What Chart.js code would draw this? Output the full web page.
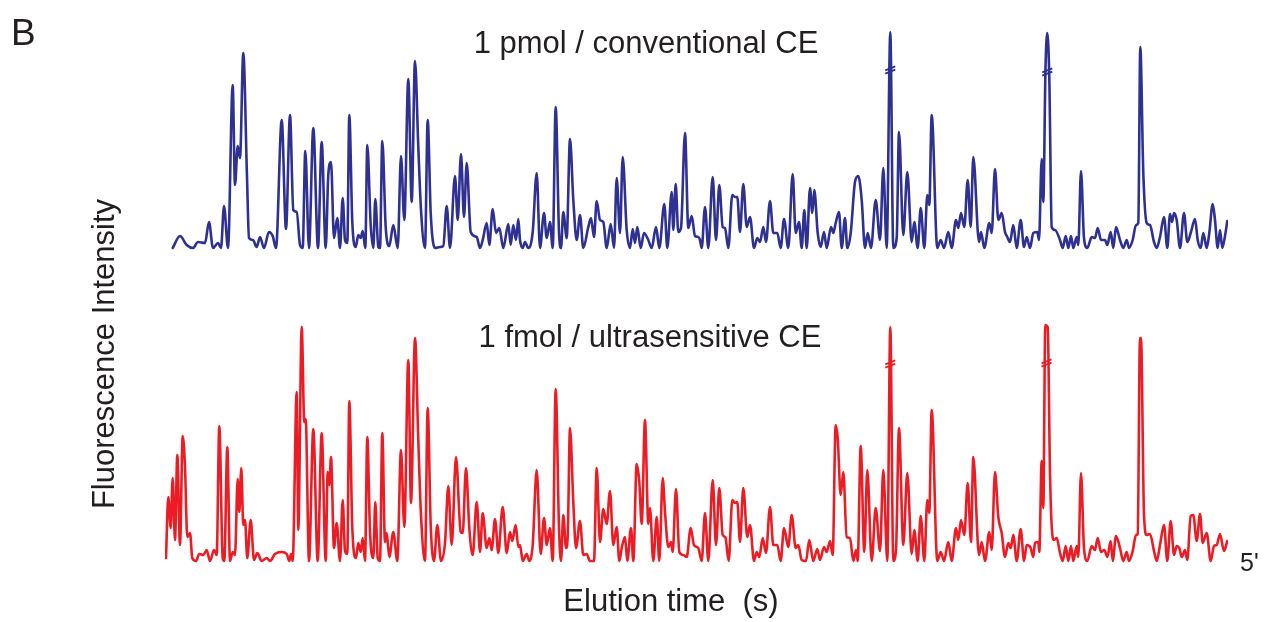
<!DOCTYPE html>
<html>
<head>
<meta charset="utf-8">
<script src="https://cdn.jsdelivr.net/npm/chart.js@4.4.1/dist/chart.umd.min.js"></script>
<style>
  html, body { margin: 0; padding: 0; background: #ffffff; }
  #wrap { position: relative; width: 1267px; height: 622px; }
</style>
</head>
<body>
<div id="wrap"><canvas id="c" width="1267" height="622"></canvas></div>
<script>
// ---- Data (time in trace units, intensity in arbitrary units) ----
const blueTime = [
  172.7,180,186.7,193,198,205,209,213,218,221,224,228,232.7,235,237.7,240,243.3,247,249,253,
  256.7,260,264,269,272.7,276,281.7,286,290,293.3,296.7,300,302.7,305.3,309,313.3,318,321.7,325.7,328.3,
  331,334,337.3,340,
  342.7,345,347.3,349.3,352.3,355.7,358.3,360.7,362.7,365.3,367.3,370.7,373.3,375.3,378.3,380,382.3,385.7,389.3,393.3,
  397.7,401,404.3,408.3,411.7,415,418.3,421,425,427.7,430.7,435,440,443.3,446.7,450,455,457.7,461,464,
  466.7,470.7,476.7,480,482.7,486.7,489.3,492.7,496,499.3,503.3,508.3,510.7,513.3,516,518.3,
  520,522.7,525,528.3,532.7,536.7,540,544,546.7,550,552.7,555.7,559,561,563.3,566.7,570,573.3,576.7,580,
  583.3,588.3,591,594,596.7,600,603.3,606.7,610.7,614,616.7,620,622.7,626.7,630,632.7,635,637.3,640.7,644,
  648.3,651.7,656,659.3,664.3,667.3,671.7,673.3,675.7,678.3,681,685,688.3,691.7,695,698.3,
  700,701.7,705,708.3,712.7,716,719.3,722.7,725,728.3,732.3,735,737.3,740,743.3,746.7,750,754,757.3,760,
  763.3,766,770,773.3,777.3,780.7,784,788.3,792.7,795.7,799,801.7,804.3,806.7,810,812.3,814.3,817.7,820.7,824,
  826.7,831,833.3,835.7,839,841.7,845,847.3,850.7,855,858.3,861.7,865,867.7,871,875.7,
  880,883.3,886.7,890.3,893.3,896.7,899,903.3,907.3,911.7,914.3,917.7,920.7,924.3,927.3,929.3,931.7,937.3,940.7,944,
  948.3,951.7,956,958.3,961,964.3,967.7,970.7,973.3,979,981,984.3,989.3,991.7,995,998.3,1001.7,1005,1007.3,1010,
  1013.3,1016.7,1020.7,1024,1026.7,1030,1033.3,1037.3,1039,1041.7,1043.3,1045.5,1047.3,1049.3,1051.7,1055,1060,
  1062.7,1065.7,1068.3,1071,1073.3,1076.7,1078.3,1081,1084,1087.3,1091.7,1095,1097.7,1101,1105,1107.3,1110.7,1113.3,1116,1120,
  1123.3,1126.7,1129,1132.7,1136,1138.3,1140.3,1143.3,1146.7,1150,1154,1156.7,1160,1164,1167.3,1170,1172,1174,1176.7,1180,
  1184,1187.3,1190.7,1195,1197.7,1200.7,1203.3,1206.7,1209.3,1212.7,1215,1217.7,1220,1222.3,1225,1227.3
];
const blueSignal = [
  0,12,3,0,6,5,26,0,5,0,42,0,163,63,102,90,195,71,10,8,
  1,11,0,16,12,0,128,19,133,38,36,3,0,97,0,120,0,106,0,73,
  86,10,30,0,
  50,8,5,133,26,1,13,10,17,0,103,23,0,49,1,0,107,21,2,23,
  0,92,28,169,46,187,101,38,0,128,35,0,1,2,42,0,72,28,94,31,
  85,16,11,0,8,25,3,39,15,20,0,24,3,23,8,29,
  8,0,6,0,16,75,0,35,10,26,0,141,16,0,36,10,109,48,8,33,
  0,21,30,11,47,28,26,0,24,0,70,15,91,18,0,19,5,21,0,15,
  8,0,21,0,44,0,56,18,64,16,20,115,20,32,12,11,
  8,0,41,0,71,8,63,21,20,0,53,51,51,16,64,21,31,0,10,6,
  21,6,47,15,15,0,29,0,74,15,26,0,38,0,60,35,58,15,1,16,
  0,21,15,25,36,0,30,0,15,66,72,48,0,15,0,48,
  8,80,0,216,0,10,116,13,76,6,26,0,40,0,53,43,133,0,8,0,
  16,0,28,20,35,21,68,21,91,6,16,0,25,15,79,28,35,16,11,6,
  23,0,28,1,11,0,15,16,8,89,46,180,215,170,21,18,8,
  0,12,0,12,0,11,3,77,10,0,11,10,20,8,8,3,16,0,21,8,
  0,8,0,8,23,25,201,75,25,23,6,0,11,31,0,34,26,35,28,0,
  35,6,15,29,8,0,15,0,15,44,28,0,18,0,12,27
];
const redTime = [
  166,168.3,170.7,172.7,175,177.3,180,182.7,185,187.3,190,192.3,196,199.3,203.3,206.7,210,214,216.7,219.3,
  222.7,224.3,227.3,230,232.7,235,237.7,239.3,241.3,243.3,245,247.3,250.7,254,257.3,261.7,266.7,270,275,281.7,
  286.7,289.3,291,292.7,296.7,298.3,301.7,304.3,305.7,309,313.3,317.7,321.7,325.7,327.7,329.3,331,334,336.7,340,
  342.7,345,347.3,349.3,352.3,356,358.3,360.7,362.7,365,367.3,370,373.3,375.3,377.7,380,382.3,385,386.7,389.3,
  393.3,397.3,401,404.3,408.3,411,415,418.3,421,425,427.7,430.7,434,437.3,441,445,448.3,451.7,456,460.7,
  462.7,466,469.3,472.7,476.7,480,482.7,486.7,489.3,491.7,495,498.3,502.7,506.7,510,512.3,515.7,518.3,
  520,522.7,526.7,529.3,532.7,536.7,540.7,544,546.7,550,552.7,555.7,559,561,563.3,566,567.7,570,573.3,576,
  580,583.3,586.7,590,594,596.7,600,603.3,606.7,610,613.3,616.7,619.3,621.7,625,627.3,631,633.3,636.7,639.3,
  641.7,645,648.3,650,653.3,656.7,659.3,662.7,665,668.3,671,672.7,676,679.3,683.3,686.7,690.7,694,698.3,
  700,701.7,705,708.3,712.7,716,719.3,722.7,725.3,728.7,732.3,735,737.3,740,743.3,747.3,750,754,756.7,759.3,
  762.7,766,770,773.3,777.3,780.7,784,788.3,791.7,795.7,798.3,801.7,806,809.3,813.3,817.3,820,824,826.7,830,
  832.7,835.7,837.7,840.7,843.3,846.7,850,853.3,856,857.7,860.7,864.3,867.3,871.7,875.7,880,
  883.3,887.3,890.3,893.3,896,899,903.3,907.3,911.7,914.3,917.7,920.7,924.3,927.3,929.3,931.7,937.3,940.7,944,948.3,
  951.7,956,958.3,961,964.3,967.7,971,973.3,979,981.7,985,989.3,991.7,995,998.3,1001.7,1005,1008.3,1010.7,1013.3,
  1016.7,1020.7,1024,1026.7,1030.7,1033.3,1035,1038.3,1039.3,1041.7,1043.3,1045.3,1047.7,1050,1051.7,1054,1056.7,1060,
  1062.7,1065.7,1068.3,1071,1073.3,1076.7,1078.3,1081,1084,1087.3,1091.7,1095,1097.7,1101,1104.3,1107.3,1110.7,1112.7,1116,1120,
  1123.3,1126.7,1129,1132.7,1136,1137.7,1140,1141,1144,1146.7,1150,1154,1156.7,1160,1164,1167.3,1170.7,1174,1176.7,1179.3,
  1181.7,1185,1187.3,1190.7,1193.3,1196.7,1200,1202.7,1206.7,1210.7,1214,1216.7,1220,1224,1227.3
];
const redSignal = [
  3,64,33,83,21,106,16,125,94,24,28,3,0,7,6,11,0,11,6,135,
  3,0,114,0,9,6,82,49,93,36,41,3,41,1,8,0,3,0,7,9,
  7,0,7,0,169,31,234,139,142,0,132,0,128,0,89,76,104,13,38,0,
  61,10,7,160,33,3,18,9,23,0,124,29,3,59,3,0,128,19,28,4,
  29,0,111,34,201,58,223,121,46,0,153,36,0,36,0,18,75,16,104,29,
  28,93,33,6,59,9,48,13,23,11,42,8,54,8,29,20,36,14,
  16,0,7,0,16,91,7,43,16,33,0,172,33,0,46,13,24,133,59,13,
  40,6,7,0,0,93,19,52,37,70,16,34,0,13,24,0,33,0,97,79,
  37,141,37,53,0,44,0,83,49,14,19,9,72,9,6,4,33,16,13,
  6,0,48,0,81,16,73,26,24,0,61,58,59,19,73,24,36,0,9,4,
  23,8,54,16,16,0,33,14,46,13,16,1,0,21,0,12,1,14,9,20,
  6,136,123,66,89,24,23,0,11,0,115,9,91,0,53,10,
  91,0,234,0,11,133,16,88,7,31,0,45,0,61,48,151,0,9,0,19,
  0,33,21,41,26,78,19,104,6,19,0,29,11,89,44,28,4,18,13,26,
  0,32,0,16,13,4,18,19,9,100,53,236,234,88,35,21,23,8,
  0,15,0,15,0,15,4,88,13,0,15,11,23,9,11,4,20,0,25,13,
  0,9,0,10,26,27,223,223,46,26,27,10,0,16,36,0,40,6,15,13,
  4,11,1,45,46,20,47,18,28,0,15,16,27,10,20
];
// axis-break marks on the off-scale peaks: [time, intensity]
const blueBreaks = [[890.3, 178], [1047.3, 176]];
const redBreaks  = [[890.3, 197], [1046.5, 198]];

const traceLabels = ['1 pmol / conventional CE', '1 fmol / ultrasensitive CE'];
const xTitle = 'Elution time  (s)';
const yTitle = 'Fluorescence Intensity';
const endLabel = "5'";
const panelLabel = 'B';

// layout: the blue trace is drawn stacked above the red one
const blueOffset = 313;
const BLUE = '#2e3192';
const RED = '#ed1c24';

const toPts = (t, v, off) => t.map((x, i) => ({ x: x, y: v[i] + off }));

const FONT = '"Liberation Sans", Arial, Helvetica, sans-serif';
const textPlugin = {
  id: 'annot',
  afterDraw(chart) {
    const ctx = chart.ctx;
    const xs = chart.scales.x, ys = chart.scales.y;
    const drawBreak = (t, v, color) => {
      const px = xs.getPixelForValue(t), py = ys.getPixelForValue(v);
      ctx.save();
      ctx.strokeStyle = color; ctx.lineWidth = 1.8;
      for (const d of [-1.7, 1.7]) {
        ctx.beginPath();
        ctx.moveTo(px - 5, py + d + 2);
        ctx.lineTo(px + 5, py + d - 2);
        ctx.stroke();
      }
      ctx.restore();
    };
    blueBreaks.forEach(b => drawBreak(b[0], b[1] + blueOffset, BLUE));
    redBreaks.forEach(b => drawBreak(b[0], b[1], RED));

    ctx.save();
    ctx.fillStyle = '#231f20';
    ctx.textBaseline = 'alphabetic';
    ctx.font = '37px ' + FONT;
    ctx.textAlign = 'left';
    ctx.fillText(panelLabel, 11, 45);
    ctx.font = '31px ' + FONT;
    ctx.textAlign = 'center';
    ctx.fillText(traceLabels[0], 646, 53);
    ctx.fillText(traceLabels[1], 650, 347);
    ctx.fillText(xTitle, 671, 611);
    ctx.textAlign = 'left';
    ctx.font = '25px ' + FONT;
    ctx.fillText(endLabel, 1240, 571);
    ctx.font = '31px ' + FONT;
    ctx.translate(114, 354);
    ctx.rotate(-Math.PI / 2);
    ctx.textAlign = 'center';
    ctx.fillText(yTitle, 0, 0);
    ctx.restore();
  }
};

new Chart(document.getElementById('c'), {
  type: 'line',
  data: {
    datasets: [
      { label: traceLabels[0], data: toPts(blueTime, blueSignal, blueOffset),
        borderColor: BLUE, borderWidth: 2.6, pointRadius: 0, cubicInterpolationMode: 'monotone', fill: false },
      { label: traceLabels[1], data: toPts(redTime, redSignal, 0),
        borderColor: RED, borderWidth: 2.6, pointRadius: 0, cubicInterpolationMode: 'monotone', fill: false }
    ]
  },
  options: {
    responsive: false,
    devicePixelRatio: 1,
    animation: false,
    layout: { padding: { left: 165, right: 39, top: 20, bottom: 57 } },
    scales: {
      x: { type: 'linear', display: false, min: 165, max: 1228 },
      y: { type: 'linear', display: false, min: -4, max: 541 }
    },
    elements: { line: { borderJoinStyle: 'round', borderCapStyle: 'round' } },
    plugins: { legend: { display: false }, tooltip: { enabled: false }, title: { display: false } }
  },
  plugins: [textPlugin]
});
</script>
</body>
</html>
